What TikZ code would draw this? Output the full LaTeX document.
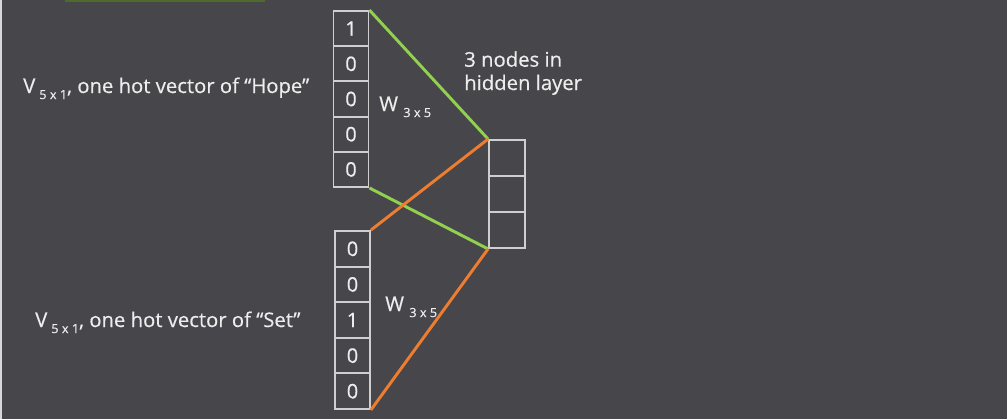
\documentclass[tikz,border=0pt]{standalone}
\usepackage{fontspec}
\setmainfont{Open Sans}[BoldFont={Open Sans},BoldFeatures={FakeBold=0.45}]
\definecolor{bg}{HTML}{47464A}
\definecolor{txt}{HTML}{EDEDED}
\definecolor{cellc}{HTML}{CFCFCF}
\definecolor{lgreen}{HTML}{92D050}
\definecolor{lorange}{HTML}{ED7D31}
\definecolor{barg}{HTML}{4F6B2C}
\newcommand{\subx}[3]{\raisebox{-0.3em}{\fontsize{9.5}{10}\selectfont #1\hspace{2.5pt}#2\hspace{2.5pt}#3}}
\begin{document}
\begin{tikzpicture}[x=0.75pt,y=-0.75pt,
  lbl/.style={text=txt,font=\fontsize{15.2}{17.5}\selectfont\bfseries,inner sep=0pt},
  cellbox/.style={draw=cellc,line width=1.4pt,minimum width=26.25pt,inner sep=0pt,
     text=txt,font=\fontsize{15}{16}\selectfont\bfseries},
  hidbox/.style={draw=cellc,line width=1.4pt,minimum width=27pt,minimum height=27pt,inner sep=0pt},
  wgreen/.style={draw=lgreen,line width=2.2pt},
  worange/.style={draw=lorange,line width=2.2pt}]
\fill[bg] (0,0) rectangle (1007,419);
\useasboundingbox (0,0) rectangle (1007,419);
\fill[cellc!80] (0,0) rectangle (2,419);
\fill[barg] (65,0) rectangle (265,2);
% top vector
\foreach \v [count=\i] in {1,0,0,0,0}{
  \node[cellbox,minimum height=26.4pt] (t\i) at (351,{11+35.2*(\i-0.5)}) {\v};
}
% bottom vector
\foreach \v [count=\i] in {0,0,1,0,0}{
  \node[cellbox,minimum height=26.7pt] (b\i) at (352.5,{231+35.6*(\i-0.5)}) {\v};
}
% hidden layer
\foreach \i in {1,2,3}{
  \node[hidbox] (h\i) at (507,{140+36*(\i-0.5)}) {};
}
% connectors
\draw[wgreen] (t1.north east) -- (h1.north west);
\draw[wgreen] (t5.south east) -- (h3.south west);
\draw[worange] (b1.north east) -- (h1.north west);
\draw[worange] (b5.south east) -- (h3.south west);
% labels
\node[lbl,anchor=base west] (lhope) at (23,93) {V\hspace{3pt}\subx{5}{x}{1}, one hot vector of “Hope”};
\node[lbl,anchor=base west] (lset) at (35,327) {V\hspace{3pt}\subx{5}{x}{1}, one hot vector of “Set”};
\node[lbl,anchor=base west] (w1) at (379,111) {W\hspace{4pt}\subx{3}{x}{5}};
\node[lbl,anchor=base west] (w2) at (385,311) {W\hspace{4pt}\subx{3}{x}{5}};
\node[lbl,anchor=base west,align=left] (hid) at (464,90) {3 nodes in\\hidden layer};
\end{tikzpicture}
\end{document}
